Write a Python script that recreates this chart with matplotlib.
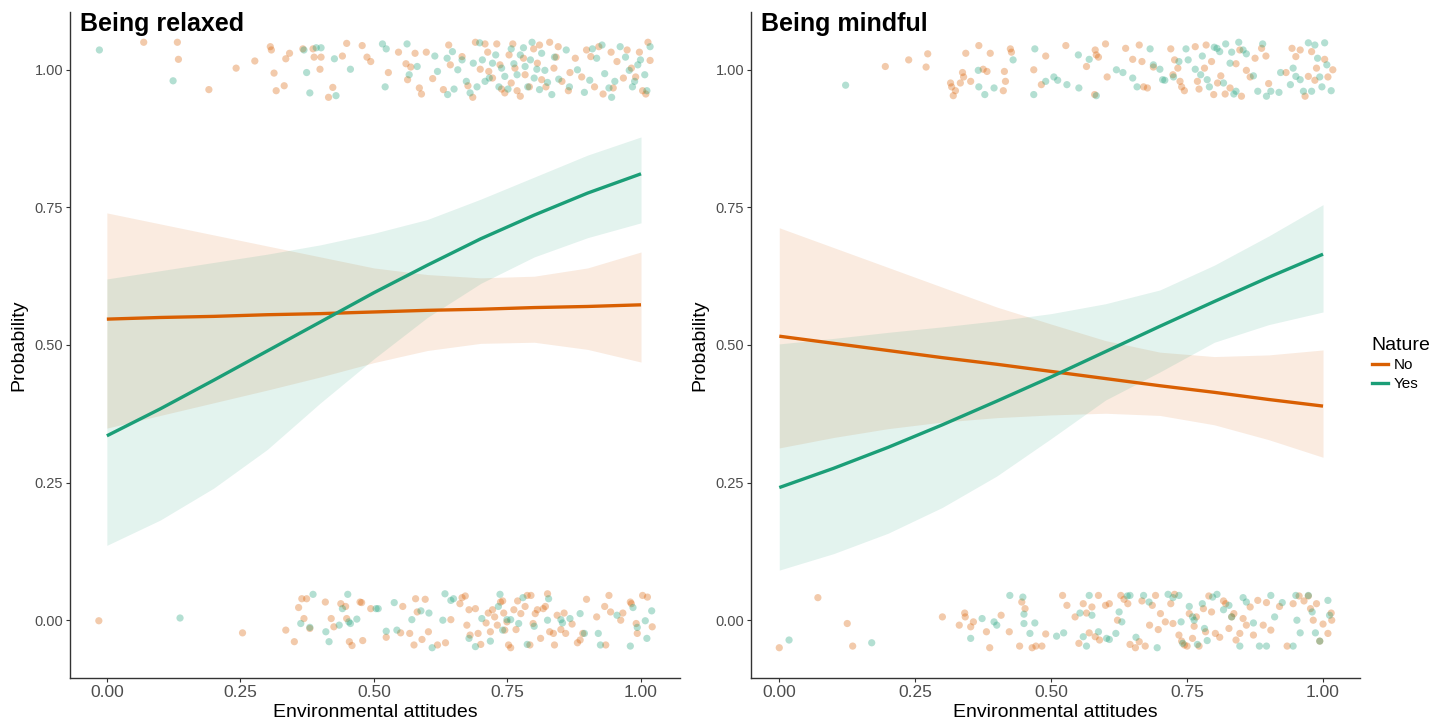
import matplotlib
matplotlib.use("Agg")
import matplotlib.pyplot as plt
from matplotlib.lines import Line2D

plt.rcParams['font.family'] = ['Liberation Sans', 'DejaVu Sans']

# colours for the Nature groups
col_no = '#D95F02'
col_yes = '#1B9E77'

# fitted probabilities and confidence bands, read at these attitude values
x_grid = [0.0, 0.1, 0.2, 0.3, 0.4, 0.5, 0.6, 0.7, 0.8, 0.9, 1.0]

relaxed_no_fit = [0.547, 0.550, 0.552, 0.555, 0.557, 0.560, 0.563, 0.565, 0.568, 0.570, 0.573]
relaxed_no_lo = [0.349, 0.372, 0.395, 0.418, 0.442, 0.468, 0.490, 0.503, 0.505, 0.492, 0.469]
relaxed_no_hi = [0.740, 0.720, 0.700, 0.680, 0.660, 0.640, 0.628, 0.622, 0.625, 0.640, 0.669]
relaxed_yes_fit = [0.335, 0.384, 0.436, 0.489, 0.542, 0.595, 0.645, 0.693, 0.736, 0.776, 0.811]
relaxed_yes_lo = [0.136, 0.182, 0.240, 0.310, 0.395, 0.475, 0.550, 0.612, 0.660, 0.695, 0.722]
relaxed_yes_hi = [0.620, 0.635, 0.650, 0.665, 0.682, 0.703, 0.728, 0.765, 0.805, 0.845, 0.878]

mindful_no_fit = [0.516, 0.503, 0.490, 0.477, 0.465, 0.452, 0.439, 0.426, 0.414, 0.401, 0.389]
mindful_no_lo = [0.313, 0.332, 0.348, 0.360, 0.368, 0.373, 0.376, 0.372, 0.355, 0.328, 0.296]
mindful_no_hi = [0.713, 0.677, 0.641, 0.605, 0.569, 0.538, 0.508, 0.487, 0.479, 0.482, 0.491]
mindful_yes_fit = [0.241, 0.276, 0.314, 0.355, 0.398, 0.442, 0.488, 0.534, 0.579, 0.623, 0.665]
mindful_yes_lo = [0.091, 0.121, 0.158, 0.205, 0.262, 0.330, 0.400, 0.451, 0.505, 0.537, 0.560]
mindful_yes_hi = [0.502, 0.512, 0.523, 0.533, 0.544, 0.557, 0.575, 0.600, 0.645, 0.698, 0.755]

# jittered observations (attitude, outcome) -- relaxed, Nature = No
relaxed_no_pts = [
    (0.069, 1.050), (0.132, 1.050), (0.134, 1.019), (0.191, 0.964), (0.242, 1.003), (0.277, 1.016),
    (0.306, 1.042), (0.308, 1.036), (0.313, 0.994), (0.317, 0.962), (0.332, 0.971), (0.335, 1.020),
    (0.342, 1.030), (0.367, 1.038), (0.386, 1.038), (0.388, 1.023), (0.399, 1.001), (0.401, 1.023),
    (0.415, 0.950), (0.423, 0.968), (0.441, 1.025), (0.449, 1.048), (0.478, 1.044), (0.487, 1.023),
    (0.494, 1.015), (0.527, 0.995), (0.546, 1.032), (0.560, 1.011), (0.563, 0.982), (0.569, 1.005),
    (0.577, 1.030), (0.585, 0.967), (0.589, 0.956), (0.598, 1.032), (0.610, 0.984), (0.630, 0.964),
    (0.640, 1.045), (0.643, 1.009), (0.665, 1.024), (0.676, 0.971), (0.685, 0.950), (0.690, 1.050),
    (0.699, 1.001), (0.708, 1.047), (0.713, 1.032), (0.715, 0.997), (0.722, 0.985), (0.730, 1.047),
    (0.736, 1.009), (0.739, 0.965), (0.745, 0.958), (0.753, 1.027), (0.757, 0.976), (0.760, 1.047),
    (0.764, 1.003), (0.768, 0.962), (0.774, 0.952), (0.780, 1.021), (0.783, 0.991), (0.791, 0.969),
    (0.799, 1.038), (0.806, 1.012), (0.810, 1.045), (0.814, 0.982), (0.822, 0.969), (0.829, 1.050),
    (0.837, 1.003), (0.841, 1.023), (0.845, 1.042), (0.852, 0.979), (0.864, 0.962), (0.867, 0.995),
    (0.877, 1.021), (0.889, 0.987), (0.898, 1.036), (0.906, 1.024), (0.913, 0.969), (0.921, 1.042),
    (0.929, 0.956), (0.944, 1.032), (0.948, 0.967), (0.955, 1.015), (0.967, 0.985), (0.974, 1.036),
    (0.982, 1.003), (0.990, 0.987), (0.997, 1.032), (1.003, 0.962), (1.009, 0.956), (1.013, 1.050),
    (1.017, 1.017),
    (-0.015, -0.001), (0.254, -0.023), (0.335, -0.018), (0.351, -0.039), (0.359, 0.023), (0.365, 0.039),
    (0.374, 0.039), (0.369, 0.003), (0.380, -0.015), (0.409, 0.033), (0.420, 0.003), (0.425, -0.012),
    (0.438, 0.030), (0.447, 0.025), (0.449, 0.003), (0.454, -0.039), (0.459, -0.046), (0.474, 0.033),
    (0.477, 0.032), (0.479, -0.037), (0.494, 0.021), (0.523, -0.031), (0.550, -0.023), (0.554, 0.025),
    (0.567, -0.024), (0.575, -0.045), (0.578, 0.039), (0.581, 0.015), (0.590, -0.035), (0.596, 0.038),
    (0.602, -0.021), (0.619, -0.045), (0.634, -0.041), (0.644, 0.001), (0.661, 0.030), (0.665, 0.041),
    (0.671, 0.044), (0.674, -0.009), (0.678, 0.019), (0.680, -0.027), (0.690, 0.021), (0.695, -0.024),
    (0.700, -0.044), (0.710, -0.005), (0.714, 0.013), (0.718, -0.021), (0.722, 0.019), (0.726, 0.006),
    (0.731, -0.009), (0.737, 0.033), (0.741, 0.035), (0.743, 0.013), (0.745, -0.018), (0.749, -0.003),
    (0.752, -0.045), (0.756, -0.050), (0.762, 0.019), (0.766, -0.017), (0.769, 0.035), (0.775, 0.012),
    (0.783, 0.025), (0.787, 0.045), (0.792, -0.045), (0.794, 0.045), (0.798, -0.006), (0.802, 0.012),
    (0.806, 0.019), (0.812, -0.033), (0.817, 0.021), (0.821, 0.025), (0.825, 0.048), (0.829, -0.021),
    (0.836, -0.024), (0.838, -0.045), (0.843, 0.009), (0.850, -0.017), (0.856, 0.013), (0.859, -0.024),
    (0.871, -0.007), (0.881, -0.041), (0.886, -0.036), (0.891, -0.024), (0.898, 0.038), (0.917, 0.006),
    (0.932, 0.025), (0.934, -0.045), (0.940, 0.045), (0.943, 0.015), (0.962, 0.000), (0.966, 0.013),
    (0.980, 0.033), (0.982, 0.030), (0.991, -0.006), (0.993, -0.024), (1.003, 0.045), (1.012, 0.042),
    (1.021, -0.012),
]

# relaxed, Nature = Yes
relaxed_yes_pts = [
    (-0.014, 1.036), (0.124, 0.980), (0.369, 1.036), (0.374, 0.995), (0.380, 0.958), (0.392, 1.040),
    (0.401, 1.040), (0.426, 1.020), (0.429, 0.953), (0.456, 1.001), (0.516, 1.047), (0.523, 1.038),
    (0.521, 0.969), (0.562, 1.047), (0.566, 0.991), (0.581, 1.006), (0.614, 1.025), (0.619, 0.997),
    (0.637, 1.021), (0.638, 0.955), (0.647, 1.033), (0.650, 0.965), (0.657, 1.000), (0.665, 1.018),
    (0.673, 0.979), (0.680, 0.958), (0.686, 1.012), (0.693, 0.969), (0.698, 1.049), (0.703, 1.018),
    (0.708, 0.979), (0.716, 0.985), (0.722, 1.012), (0.728, 1.027), (0.734, 0.969), (0.739, 1.003),
    (0.745, 0.988), (0.751, 0.965), (0.757, 1.038), (0.762, 1.011), (0.768, 0.991), (0.774, 1.027),
    (0.780, 1.040), (0.783, 1.006), (0.788, 0.969), (0.793, 1.018), (0.796, 1.050), (0.800, 0.985),
    (0.805, 1.001), (0.810, 0.964), (0.814, 1.030), (0.820, 0.999), (0.825, 0.977), (0.833, 0.955),
    (0.838, 1.023), (0.846, 0.983), (0.860, 1.036), (0.866, 0.969), (0.881, 1.000), (0.894, 0.959),
    (0.904, 0.981), (0.909, 1.038), (0.917, 1.021), (0.927, 1.045), (0.932, 0.993), (0.940, 0.967),
    (0.945, 0.950), (0.951, 0.979), (0.961, 1.042), (0.971, 1.023), (0.978, 0.999), (0.984, 0.969),
    (0.988, 0.979), (0.994, 1.009), (0.999, 1.018), (1.007, 0.991), (1.011, 0.962), (1.017, 1.042),
    (0.137, 0.004), (0.363, -0.006), (0.380, -0.013), (0.386, 0.047), (0.410, -0.021), (0.416, -0.039),
    (0.435, -0.009), (0.441, 0.021), (0.451, 0.047), (0.453, -0.003), (0.456, -0.006), (0.468, 0.002),
    (0.504, 0.021), (0.508, 0.021), (0.523, -0.020), (0.538, 0.032), (0.543, -0.018), (0.571, 0.001),
    (0.588, 0.017), (0.603, 0.013), (0.609, -0.050), (0.629, 0.000), (0.633, 0.048), (0.644, 0.036),
    (0.649, 0.039), (0.678, -0.033), (0.690, -0.048), (0.702, 0.003), (0.718, -0.038), (0.733, 0.025),
    (0.736, 0.047), (0.741, -0.018), (0.749, 0.001), (0.756, 0.001), (0.771, -0.006), (0.779, 0.041),
    (0.787, -0.044), (0.800, -0.011), (0.825, 0.000), (0.827, 0.039), (0.850, 0.001), (0.853, -0.005),
    (0.867, 0.003), (0.886, 0.012), (0.894, -0.024), (0.920, -0.024), (0.924, -0.045), (0.955, 0.009),
    (0.980, -0.047), (0.985, 0.023), (0.993, -0.013), (1.008, -0.001), (1.011, -0.033), (1.020, 0.017),
]

# mindful, Nature = No
mindful_no_pts = [
    (0.195, 1.006), (0.238, 1.018), (0.270, 1.005), (0.273, 1.029), (0.315, 0.976), (0.317, 0.969),
    (0.320, 0.953), (0.324, 0.962), (0.333, 0.976), (0.337, 0.995), (0.339, 0.987), (0.343, 1.030),
    (0.352, 0.979), (0.367, 1.044), (0.375, 1.001), (0.382, 0.997), (0.388, 1.030), (0.412, 0.962),
    (0.416, 0.979), (0.414, 0.997), (0.425, 1.038), (0.427, 1.032), (0.468, 1.000), (0.482, 0.973),
    (0.490, 1.025), (0.527, 1.044), (0.565, 1.006), (0.581, 1.036), (0.583, 1.027), (0.580, 0.955),
    (0.587, 1.023), (0.600, 1.047), (0.603, 0.987), (0.637, 1.039), (0.650, 1.019), (0.662, 1.045),
    (0.667, 1.015), (0.670, 0.969), (0.677, 0.967), (0.688, 1.005), (0.720, 1.038), (0.724, 0.991),
    (0.727, 1.018), (0.733, 1.003), (0.737, 0.979), (0.740, 0.969), (0.745, 0.962), (0.765, 1.042),
    (0.769, 0.979), (0.772, 0.965), (0.782, 1.003), (0.785, 1.045), (0.795, 1.015), (0.799, 0.955),
    (0.806, 0.976), (0.812, 0.989), (0.820, 0.956), (0.829, 0.967), (0.840, 1.011), (0.847, 1.036),
    (0.850, 0.952), (0.859, 0.999), (0.866, 0.987), (0.875, 1.021), (0.887, 1.039), (0.895, 1.025),
    (0.900, 0.975), (0.932, 0.995), (0.943, 1.039), (0.950, 1.024), (0.958, 1.036), (0.967, 0.952),
    (0.973, 0.988), (0.979, 1.033), (0.985, 0.981), (0.988, 1.003), (1.003, 1.019), (1.009, 0.987),
    (1.018, 1.000),
    (0.000, -0.050), (0.071, 0.041), (0.125, -0.006), (0.135, -0.047), (0.300, 0.006), (0.331, -0.009),
    (0.341, 0.013), (0.342, 0.006), (0.352, -0.012), (0.357, -0.003), (0.381, -0.021), (0.387, -0.050),
    (0.408, 0.009), (0.423, -0.021), (0.442, -0.047), (0.446, 0.033), (0.452, 0.021), (0.465, -0.050),
    (0.472, -0.047), (0.483, -0.047), (0.490, -0.025), (0.521, 0.045), (0.529, 0.027), (0.544, 0.006),
    (0.551, -0.042), (0.559, 0.030), (0.565, 0.013), (0.570, -0.023), (0.575, 0.024), (0.581, -0.030),
    (0.587, 0.045), (0.589, -0.036), (0.600, 0.027), (0.607, 0.030), (0.622, 0.000), (0.628, 0.045),
    (0.634, 0.038), (0.641, 0.030), (0.645, -0.044), (0.655, -0.050), (0.662, -0.039), (0.667, 0.035),
    (0.673, -0.047), (0.681, -0.009), (0.686, 0.027), (0.692, 0.045), (0.697, -0.017), (0.701, 0.012),
    (0.710, -0.003), (0.720, 0.030), (0.724, -0.006), (0.727, 0.047), (0.735, -0.027), (0.740, -0.038),
    (0.745, -0.045), (0.750, -0.047), (0.754, 0.012), (0.760, -0.033), (0.763, -0.011), (0.767, 0.006),
    (0.772, -0.047), (0.780, 0.021), (0.784, -0.021), (0.790, 0.044), (0.795, 0.015), (0.802, -0.024),
    (0.810, -0.031), (0.817, 0.035), (0.821, 0.030), (0.827, -0.015), (0.832, 0.006), (0.836, 0.012),
    (0.840, -0.036), (0.847, -0.024), (0.853, 0.003), (0.859, -0.009), (0.866, 0.024), (0.872, -0.027),
    (0.880, 0.036), (0.890, -0.009), (0.896, 0.032), (0.904, -0.018), (0.920, 0.025), (0.934, -0.047),
    (0.945, 0.030), (0.956, 0.044), (0.965, 0.035), (0.973, 0.044), (0.977, 0.021), (0.982, 0.000),
    (0.988, 0.030), (0.994, -0.038), (1.000, -0.007), (1.009, -0.024), (1.015, 0.013), (1.016, 0.000),
]

# mindful, Nature = Yes
mindful_yes_pts = [
    (0.122, 0.972), (0.366, 0.999), (0.367, 0.969), (0.378, 0.955), (0.395, 0.967), (0.430, 1.018),
    (0.468, 0.955), (0.470, 1.038), (0.490, 0.979), (0.505, 0.987), (0.512, 0.981), (0.529, 0.973),
    (0.550, 1.027), (0.551, 0.967), (0.570, 1.019), (0.583, 0.953), (0.620, 1.000), (0.632, 0.995),
    (0.650, 0.985), (0.658, 0.969), (0.682, 1.038), (0.688, 1.009), (0.700, 1.001), (0.705, 0.982),
    (0.709, 0.981), (0.725, 0.987), (0.735, 1.015), (0.748, 1.038), (0.752, 1.018), (0.765, 1.001),
    (0.775, 0.991), (0.778, 1.025), (0.787, 0.982), (0.791, 0.969), (0.800, 1.041), (0.805, 1.039),
    (0.810, 1.033), (0.817, 0.976), (0.821, 1.047), (0.829, 1.012), (0.832, 1.032), (0.836, 0.956),
    (0.840, 0.961), (0.845, 1.050), (0.853, 1.036), (0.859, 1.029), (0.872, 0.989), (0.880, 0.961),
    (0.889, 1.047), (0.896, 0.952), (0.904, 0.961), (0.919, 0.959), (0.922, 0.995), (0.940, 0.973),
    (0.945, 1.003), (0.950, 0.988), (0.958, 0.982), (0.964, 0.961), (0.973, 1.049), (0.979, 0.961),
    (0.985, 1.045), (0.990, 1.021), (0.994, 0.987), (0.998, 0.969), (1.003, 1.049), (1.007, 1.009),
    (1.015, 0.962),
    (0.018, -0.036), (0.170, -0.041), (0.352, -0.033), (0.373, 0.003), (0.395, -0.003), (0.400, -0.009),
    (0.424, 0.045), (0.448, 0.042), (0.450, 0.011), (0.450, -0.006), (0.461, -0.024), (0.470, -0.005),
    (0.510, -0.029), (0.523, -0.023), (0.553, 0.013), (0.559, -0.030), (0.565, -0.047), (0.570, 0.045),
    (0.575, 0.009), (0.587, -0.021), (0.602, -0.033), (0.607, -0.035), (0.619, -0.024), (0.625, 0.015),
    (0.630, -0.003), (0.640, 0.044), (0.645, 0.045), (0.656, -0.031), (0.670, 0.045), (0.680, 0.033),
    (0.695, -0.050), (0.715, 0.047), (0.724, 0.041), (0.735, 0.045), (0.739, -0.003), (0.742, -0.042),
    (0.754, 0.025), (0.760, 0.006), (0.763, 0.000), (0.769, -0.044), (0.778, 0.030), (0.782, -0.015),
    (0.787, -0.037), (0.797, 0.042), (0.805, 0.047), (0.817, 0.019), (0.827, 0.027), (0.832, 0.006),
    (0.847, -0.047), (0.853, 0.041), (0.859, 0.033), (0.872, -0.005), (0.883, -0.047), (0.896, -0.047),
    (0.904, 0.045), (0.911, 0.006), (0.925, 0.032), (0.945, -0.047), (0.950, 0.045), (0.952, 0.000),
    (0.958, -0.023), (0.973, 0.045), (0.980, 0.015), (0.986, -0.023), (0.994, -0.038), (1.009, 0.036),
    (1.012, 0.009),
]

W, H = 1447, 723
fig = plt.figure(figsize=(W / 100, H / 100), dpi=100)
ax1 = fig.add_axes([70 / W, 45 / H, 610 / W, 666 / H])
ax2 = fig.add_axes([751 / W, 45 / H, 609 / W, 666 / H])


def draw_panel(ax, title, no_pts, yes_pts, no_fit, no_lo, no_hi, yes_fit, yes_lo, yes_hi, xlim):
    for pts, c in [(no_pts, col_no), (yes_pts, col_yes)]:
        ax.scatter([p[0] for p in pts], [p[1] for p in pts], s=27, color=c,
                   alpha=0.33, edgecolors='none', zorder=2)
    ax.fill_between(x_grid, no_lo, no_hi, color=col_no, alpha=0.12, lw=0, zorder=3)
    ax.fill_between(x_grid, yes_lo, yes_hi, color=col_yes, alpha=0.12, lw=0, zorder=3)
    ax.plot(x_grid, no_fit, color=col_no, lw=2.4, zorder=4, solid_capstyle='butt')
    ax.plot(x_grid, yes_fit, color=col_yes, lw=2.4, zorder=4, solid_capstyle='butt')

    ax.set_xlim(*xlim)
    ax.set_ylim(-0.105, 1.105)
    ax.set_xticks([0, 0.25, 0.5, 0.75, 1.0])
    ax.set_xticklabels(['0.00', '0.25', '0.50', '0.75', '1.00'])
    ax.set_yticks([0, 0.25, 0.5, 0.75, 1.0])
    ax.set_yticklabels(['0.00', '0.25', '0.50', '0.75', '1.00'])
    ax.tick_params(axis='x', labelsize=12.5, colors='#333333', labelcolor='#4D4D4D',
                   length=3, width=0.8, pad=2)
    ax.tick_params(axis='y', labelsize=10.5, colors='#333333', labelcolor='#4D4D4D',
                   length=3, width=0.8, pad=2)
    for s in ['top', 'right']:
        ax.spines[s].set_visible(False)
    for s in ['left', 'bottom']:
        ax.spines[s].set_color('#333333')
        ax.spines[s].set_linewidth(1.0)
    ax.set_xlabel('Environmental attitudes', fontsize=14, labelpad=3)
    ax.set_ylabel('Probability', fontsize=14, labelpad=5)
    ax.text(0.016, 1.0, title, transform=ax.transAxes, fontsize=18,
            fontweight='bold', va='top', ha='left')


draw_panel(ax1, 'Being relaxed', relaxed_no_pts, relaxed_yes_pts,
           relaxed_no_fit, relaxed_no_lo, relaxed_no_hi,
           relaxed_yes_fit, relaxed_yes_lo, relaxed_yes_hi, (-0.069, 1.073))
draw_panel(ax2, 'Being mindful', mindful_no_pts, mindful_yes_pts,
           mindful_no_fit, mindful_no_lo, mindful_no_hi,
           mindful_yes_fit, mindful_yes_lo, mindful_yes_hi, (-0.052, 1.068))

handles = [Line2D([], [], color=col_no, lw=2.4), Line2D([], [], color=col_yes, lw=2.4)]
leg = fig.legend(handles, ['No', 'Yes'], title='Nature', loc='center left',
                 bbox_to_anchor=(1364 / W, 1 - 364 / H), frameon=False,
                 fontsize=11, title_fontsize=14, handlelength=1.1,
                 handletextpad=0.35, labelspacing=0.3, borderpad=0)
leg._legend_box.align = 'left'

fig.savefig('out.png', dpi=100)
